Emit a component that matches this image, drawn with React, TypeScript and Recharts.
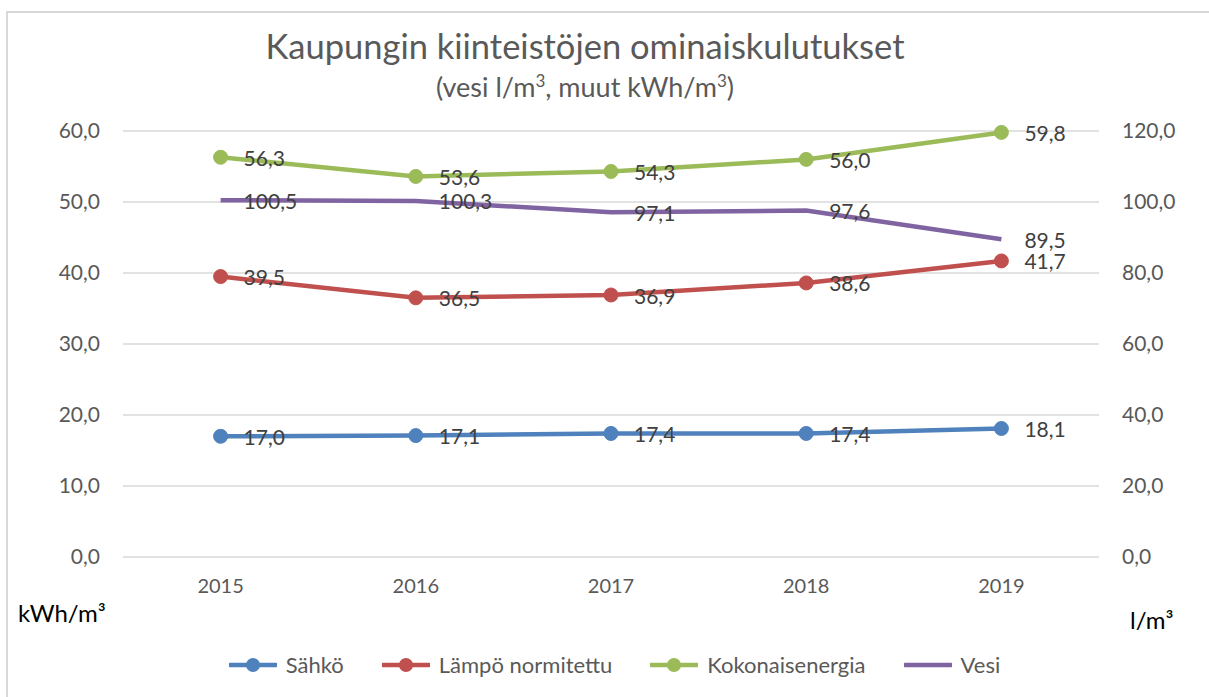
import React from 'react';
import {
  LineChart,
  Line,
  XAxis,
  YAxis,
  CartesianGrid,
  LabelList
} from 'recharts';

const years = ['2015', '2016', '2017', '2018', '2019'];
const sahko = [17.0, 17.1, 17.4, 17.4, 18.1];
const lampo = [39.5, 36.5, 36.9, 38.6, 41.7];
const kokonais = [56.3, 53.6, 54.3, 56.0, 59.8];
const vesi = [100.5, 100.3, 97.1, 97.6, 89.5];
const leftTicks = [0, 10, 20, 30, 40, 50, 60];
const rightTicks = [0, 20, 40, 60, 80, 100, 120];

const data = years.map((year, i) => ({
  year,
  sahko: sahko[i],
  lampo: lampo[i],
  kokonais: kokonais[i],
  vesi: vesi[i]
}));

const FONT = 'Lato, "Open Sans", sans-serif';
const TEXT = '#595959';

const fmt = (v: number) => v.toFixed(1).replace('.', ',');

const series = [
  { key: 'sahko', name: 'Sähkö', color: '#4F81BD', dot: true },
  { key: 'lampo', name: 'Lämpö normitettu', color: '#C0504D', dot: true },
  { key: 'kokonais', name: 'Kokonaisenergia', color: '#9BBB59', dot: true },
  { key: 'vesi', name: 'Vesi', color: '#8064A2', dot: false }
];

const ValueLabel = (props: any) => {
  const { x, y, value } = props;
  return (
    <text
      x={x + 23}
      y={y}
      dominantBaseline="central"
      fill="#404040"
      fontSize={21}
      fontFamily={FONT}
    >
      {fmt(value)}
    </text>
  );
};

const ChartLegend = () => (
  <div
    style={{
      position: 'absolute',
      left: 0,
      top: 651,
      width: 1229,
      display: 'flex',
      justifyContent: 'center',
      gap: 38,
      fontFamily: FONT,
      fontSize: 22,
      color: TEXT
    }}
  >
    {series.map((s) => (
      <div key={s.key} style={{ display: 'flex', alignItems: 'center', gap: 9 }}>
        <svg width={48} height={16}>
          <line x1={1} y1={8} x2={47} y2={8} stroke={s.color} strokeWidth={4.5} strokeLinecap="round" />
          {s.dot && <circle cx={24} cy={8} r={7} fill={s.color} />}
        </svg>
        <span>{s.name}</span>
      </div>
    ))}
  </div>
);

export default function App() {
  return (
    <div style={{ position: 'absolute', left: 0, top: 0, width: 1209, height: 697, overflow: 'hidden', background: '#fff' }}>
      <div
        style={{
          position: 'absolute',
          left: 6,
          top: 11,
          width: 1230,
          height: 720,
          borderTop: '2px solid #d9d9d9',
          borderLeft: '2px solid #d9d9d9'
        }}
      />
      <div style={{ position: 'absolute', left: 0, top: 25, width: 1170, textAlign: 'center', fontFamily: FONT, fontSize: 34.5, color: TEXT }}>
        Kaupungin kiinteistöjen ominaiskulutukset
      </div>
      <div style={{ position: 'absolute', left: 0, top: 70, width: 1170, textAlign: 'center', fontFamily: FONT, fontSize: 27, color: TEXT }}>
        (vesi l/m<sup style={{ fontSize: 17 }}>3</sup>, muut kWh/m<sup style={{ fontSize: 17 }}>3</sup>)
      </div>
      <div style={{ position: 'absolute', left: 18, top: 598, fontFamily: FONT, fontSize: 24, color: '#000' }}>
        kWh/m³
      </div>
      <div style={{ position: 'absolute', left: 1130, top: 605, fontFamily: FONT, fontSize: 24, color: '#000' }}>
        l/m³
      </div>
      <div style={{ position: 'absolute', left: 0, top: 0 }}>
        <LineChart
          width={1209}
          height={697}
          data={data}
          margin={{ top: 131, right: 0, bottom: 100, left: 0 }}
        >
          <CartesianGrid vertical={false} stroke="#d9d9d9" strokeWidth={1.5} yAxisId="left" />
          <XAxis
            dataKey="year"
            axisLine={false}
            tickLine={false}
            tickSize={0}
            tickMargin={22}
            height={40}
            padding={{ left: 97.6, right: 97.6 }}
            tick={{ fill: TEXT, fontSize: 20, fontFamily: FONT }}
          />
          <YAxis
            yAxisId="left"
            orientation="left"
            width={123}
            domain={[0, 60]}
            ticks={leftTicks}
            tickFormatter={fmt}
            axisLine={false}
            tickLine={false}
            tickSize={0}
            tickMargin={23}
            tick={{ fill: TEXT, fontSize: 21, fontFamily: FONT }}
          />
          <YAxis
            yAxisId="right"
            orientation="right"
            width={110}
            domain={[0, 120]}
            ticks={rightTicks}
            tickFormatter={fmt}
            axisLine={false}
            tickLine={false}
            tickSize={0}
            tickMargin={23}
            tick={{ fill: TEXT, fontSize: 21, fontFamily: FONT }}
          />
          <Line
            yAxisId="right"
            dataKey="vesi"
            name="Vesi"
            stroke="#8064A2"
            strokeWidth={4.5}
            dot={false}
            activeDot={false}
            isAnimationActive={false}
          >
            <LabelList dataKey="vesi" content={<ValueLabel />} />
          </Line>
          {series.filter((s) => s.dot).map((s) => (
            <Line
              key={s.key}
              yAxisId="left"
              dataKey={s.key}
              name={s.name}
              stroke={s.color}
              strokeWidth={4.5}
              dot={{ r: 7, fill: s.color, stroke: s.color, strokeWidth: 1 }}
              activeDot={false}
              isAnimationActive={false}
            >
              <LabelList dataKey={s.key} content={<ValueLabel />} />
            </Line>
          ))}
        </LineChart>
      </div>
      <ChartLegend />
    </div>
  );
}
